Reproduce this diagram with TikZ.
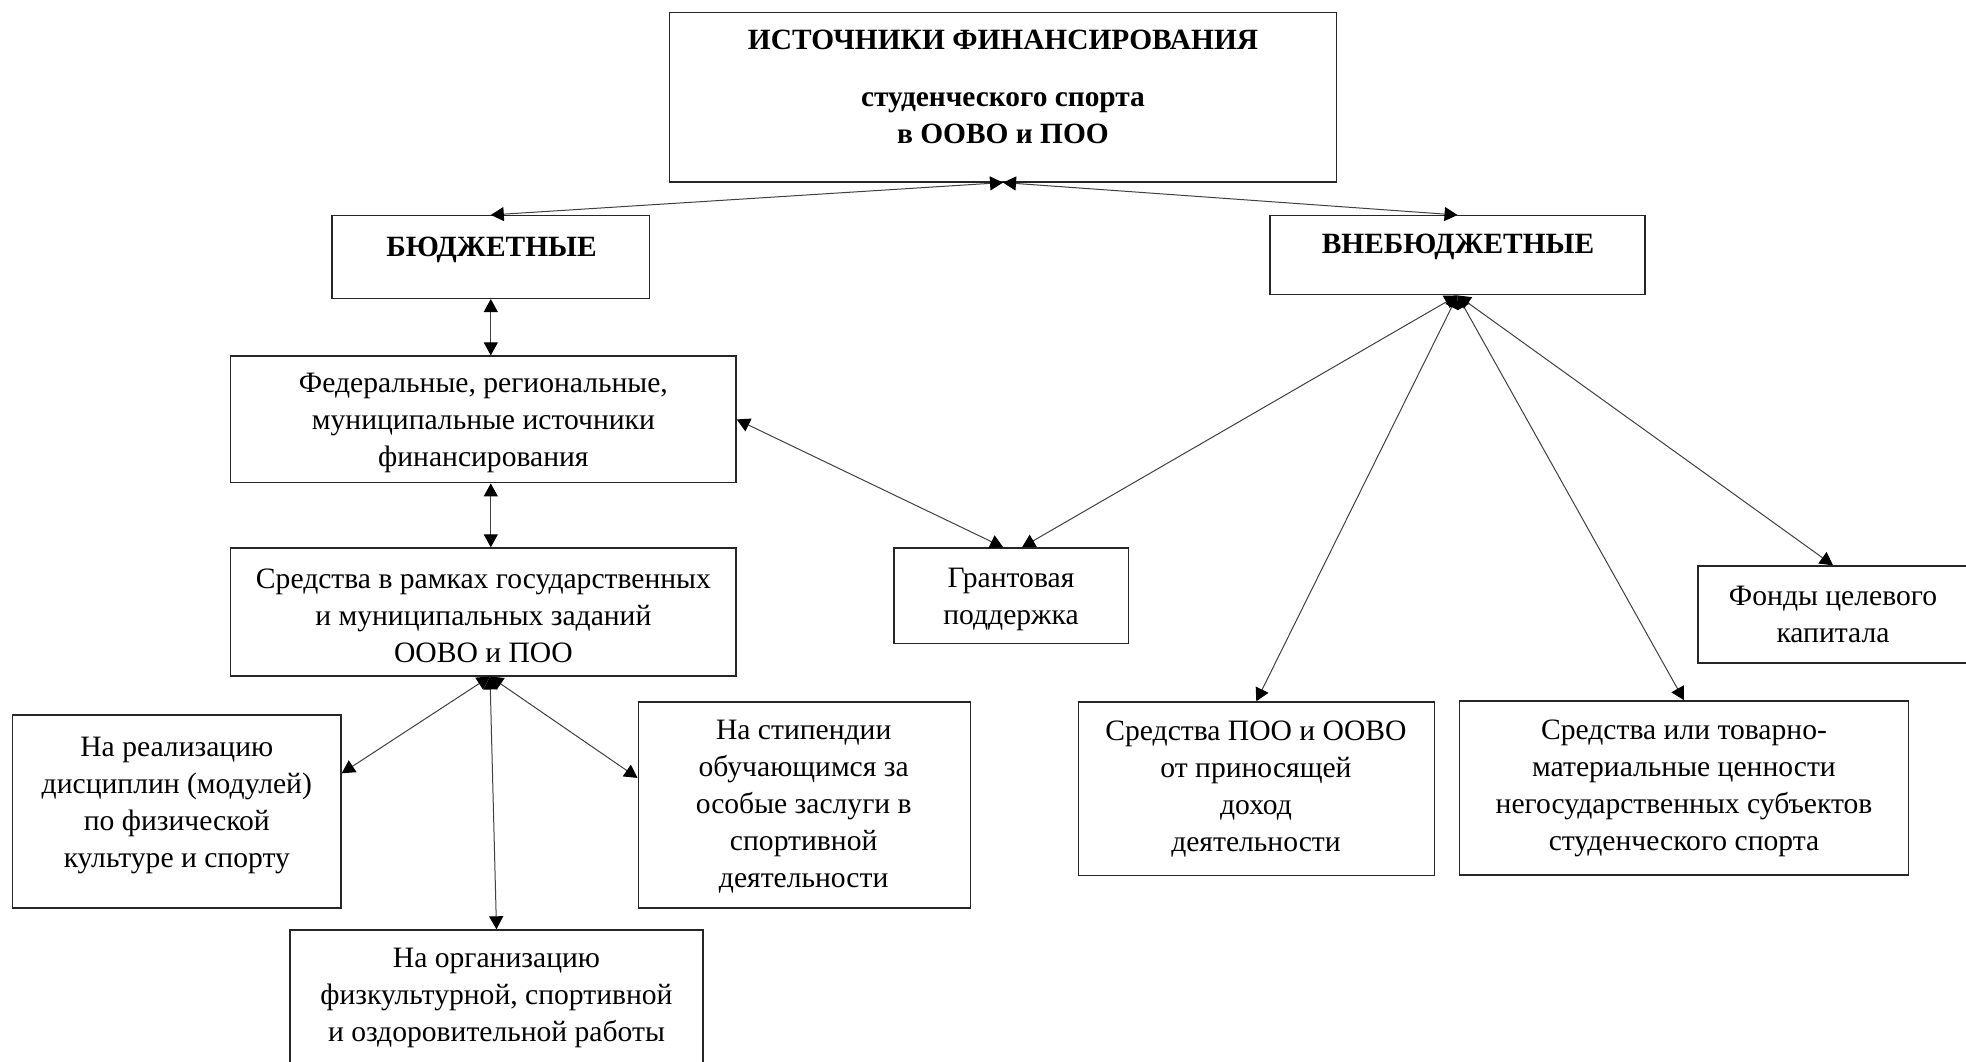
\documentclass[tikz,border=0pt]{standalone}
\usepackage{fontspec}
\setmainfont{Liberation Serif}
\usetikzlibrary{arrows.meta}
\begin{document}
\begin{tikzpicture}[x=0.5pt,y=-0.5pt,
  box/.style={draw=black!85, line width=0.7pt, rectangle, inner sep=0pt},
  txt/.style={align=center, inner sep=0pt, yshift=-2pt, font=\fontsize{14.8}{18.5}\selectfont},
  btxt/.style={align=center, inner sep=0pt, yshift=-2pt, font=\bfseries\fontsize{14.7}{18.6}\selectfont},
  link/.style={draw=black!75, line width=0.5pt,
    {Triangle[length=6.5pt,width=7pt,color=black]}-{Triangle[length=6.5pt,width=7pt,color=black]}}]
\useasboundingbox (0,0) rectangle (1966,1061);
\clip (0,0) rectangle (1966,1061);

% frames
\node[box, minimum width=333.5pt, minimum height=84.65pt] (top) at (1003,97.2) {};
\node[box, minimum width=158.75pt, minimum height=41.35pt] (budg) at (490.8,257) {};
\node[box, minimum width=187.5pt, minimum height=39.5pt] (vneb) at (1457.5,255.2) {};
\node[box, minimum width=252.65pt, minimum height=63.35pt] (fed) at (483.4,419.4) {};
\node[box, minimum width=252.65pt, minimum height=63.9pt] (sred) at (483.4,611.9) {};
\node[box, minimum width=117.2pt, minimum height=47.6pt] (grant) at (1011.2,595.6) {};
\node[box, minimum width=135pt, minimum height=48.5pt] (fond) at (1833,614.5) {};
\node[box, minimum width=178pt, minimum height=86.6pt] (poo) at (1256.3,788.6) {};
\node[box, minimum width=224.5pt, minimum height=87.15pt] (tov) at (1683.9,788) {};
\node[box, minimum width=164.25pt, minimum height=96.5pt] (real) at (176.8,811.3) {};
\node[box, minimum width=166.1pt, minimum height=102.9pt] (stip) at (804.3,804.9) {};
\node[box, minimum width=206.5pt, minimum height=72.5pt] (org) at (496.5,1002.5) {};

% texts
\node[btxt] (t1) at (1003,36) {ИСТОЧНИКИ ФИНАНСИРОВАНИЯ};
\node[btxt] (t2) at (1003,114) {студенческого спорта\\в ООВО и ПОО};
\node[btxt] (tbudg) at (491.5,245.7) {БЮДЖЕТНЫЕ};
\node[btxt] (tvneb) at (1458,243) {ВНЕБЮДЖЕТНЫЕ};
\node[txt] (tfed) at (483.4,418.8) {Федеральные, региональные,\\муниципальные источники\\финансирования};
\node[txt] (tsred) at (483.4,612) {Средства в рамках государственных\\и муниципальных заданий\\ООВО и ПОО};
\node[txt] (tgrant) at (1011,595) {Грантовая\\поддержка};
\node[txt] (tfond) at (1833,610.6) {Фонды целевого\\капитала};
\node[txt] (tpoo) at (1256,785) {Средства ПОО и ООВО\\от приносящей\\доход\\деятельности};
\node[txt] (ttov) at (1684,784.3) {Средства или товарно-\\материальные ценности\\негосударственных субъектов\\студенческого спорта};
\node[txt] (treal) at (176.8,801.8) {На реализацию\\дисциплин (модулей)\\по физической\\культуре и спорту};
\node[txt] (tstip) at (803.7,802.4) {На стипендии\\обучающимся за\\особые заслуги в\\спортивной\\деятельности};
\node[txt] (torg) at (496.5,994.3) {На организацию\\физкультурной, спортивной\\и оздоровительной работы};

% connectors
\draw[link] (top.south) -- (budg.north);
\draw[link] (top.south) -- (vneb.north);
\draw[link] (budg.south) -- (budg.south |- fed.north);
\draw[link] (fed.south -| budg.south) -- (sred.north -| budg.south);
\draw[link] (fed.east) -- ([xshift=-4pt]grant.north);
\draw[link] (vneb.south) -- ([xshift=5.4pt]grant.north);
\draw[link] (vneb.south) -- (poo.north);
\draw[link] (vneb.south) -- (tov.north);
\draw[link] (vneb.south) -- (fond.north);
\coordinate (so) at ([xshift=3.3pt]sred.south);
\draw[link] (so) -- ([yshift=19pt]real.east);
\draw[link] (so) -- (org.north);
\draw[link] (so) -- ([yshift=13.5pt]stip.west);
\end{tikzpicture}
\end{document}
